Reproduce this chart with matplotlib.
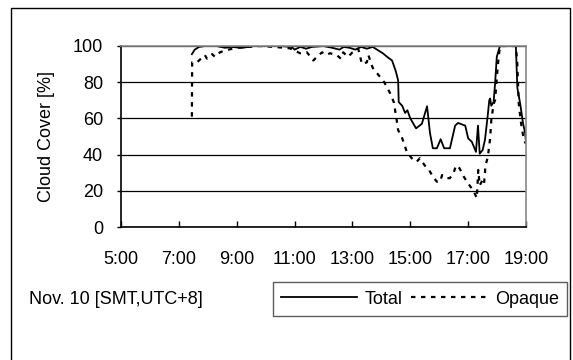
import matplotlib.pyplot as plt
from matplotlib.patches import Rectangle

plt.rcParams["font.family"] = ["Liberation Sans", "DejaVu Sans"]
plt.rcParams["font.size"] = 13

# --- DATA (hours of day, local time) ---
total_time = [7.45, 7.55, 7.7, 7.9, 8.3, 8.6, 8.8, 9.2, 9.6, 10.0, 10.5, 10.9,
              11.0, 11.2, 11.4, 11.6, 12.0, 12.3, 12.55, 12.7, 12.9, 13.1, 13.3,
              13.5, 13.7, 13.85, 14.05, 14.2, 14.37, 14.5, 14.58, 14.6, 14.72,
              14.82, 14.9, 15.0, 15.2, 15.4, 15.58, 15.68, 15.78, 15.92, 16.05,
              16.17, 16.37, 16.55, 16.65, 16.9, 17.0, 17.13, 17.27, 17.34, 17.4,
              17.5, 17.58, 17.68, 17.73, 17.76, 17.8, 17.88, 17.93, 17.99, 18.1,
              18.65, 18.7, 18.8, 18.9, 18.97, 19.0]
total_cover = [95.5, 98, 99.5, 100, 100, 99, 99.5, 99, 100, 100, 100, 99.5,
               98, 99.5, 98.5, 99.5, 100, 99, 98, 99.5, 99, 98, 99.5,
               98.5, 99.5, 98, 96, 94, 92, 86, 81, 69, 67,
               63, 64.5, 60, 54.5, 57, 66.7, 52, 43.5, 43.5, 48.5,
               43.5, 43.5, 56, 57.5, 56, 49, 47, 41.5, 56, 40.5,
               42.5, 48, 62, 70, 71, 67, 69, 79, 94, 100,
               100, 77, 68, 57, 52, 47]

opaque_time = [7.45, 7.46, 7.63, 7.73, 7.9, 7.97, 8.15, 8.25, 8.42, 8.6, 8.77,
               9.0, 9.4, 9.8, 10.3, 10.84, 11.0, 11.19, 11.43, 11.55, 11.65,
               11.77, 11.95, 12.1, 12.22, 12.46, 12.6, 12.68, 12.85, 13.0, 13.2,
               13.33, 13.5, 13.55, 13.7, 14.1, 14.3, 14.43, 14.53, 14.58, 14.7,
               14.88, 15.05, 15.22, 15.33, 15.5, 15.65, 15.78, 15.92, 16.03,
               16.1, 16.25, 16.37, 16.5, 16.58, 16.7, 16.85, 17.0, 17.17, 17.3,
               17.35, 17.4, 17.5, 17.55, 17.6, 17.68, 17.76, 17.8, 17.88, 17.93,
               18.03, 18.1, 18.65, 18.7, 18.75, 18.8, 18.85, 18.93, 19.0]
opaque_cover = [61, 91, 91, 92.5, 95, 93, 95.5, 94, 96.5, 97.6, 98.2,
                99, 99.5, 100, 99.5, 98.7, 97.5, 96, 96.5, 94, 92,
                94, 96.5, 95, 96, 95, 93, 96.5, 94, 96.5, 98.5,
                90, 91, 95, 88, 80, 74, 69, 59, 53.5, 50,
                41.5, 38, 36, 38, 34, 31.5, 27.8, 25, 25,
                28.7, 27, 27, 30, 34, 32.5, 27.8, 24, 20.4, 16,
                31.5, 23, 26, 24, 34, 38.6, 49, 59, 68, 70,
                90, 100, 100, 90, 68, 61, 55, 48, 46]

hour_ticks = [5, 7, 9, 11, 13, 15, 17, 19]
hour_labels = ["5:00", "7:00", "9:00", "11:00", "13:00", "15:00", "17:00", "19:00"]
y_ticks = [0, 20, 40, 60, 80, 100]

# --- PLOT ---
fig = plt.figure(figsize=(5.73, 3.6), dpi=100)
ax = fig.add_axes([121 / 573, 1 - 227 / 360, 405 / 573, 181 / 360])

ax.plot(total_time, total_cover, color="black", lw=1.3, label="Total")
ax.plot(opaque_time, opaque_cover, color="black", lw=1.6,
        linestyle=(0, (2, 2.5)), label="Opaque")

ax.set_xlim(5, 19)
ax.set_ylim(0, 100)
ax.set_xticks(hour_ticks)
ax.set_xticklabels(hour_labels)
ax.set_yticks(y_ticks)
ax.tick_params(axis="x", direction="in", length=4, pad=17, width=1)
ax.tick_params(axis="y", direction="out", length=3, pad=10, width=1)
ax.grid(axis="y", color="black", lw=0.9)
ax.set_axisbelow(True)

for side in ["top", "right"]:
    ax.spines[side].set_color("#888888")
    ax.spines[side].set_linewidth(1.2)
for side in ["left", "bottom"]:
    ax.spines[side].set_color("black")
    ax.spines[side].set_linewidth(1.2)

ax.set_ylabel("Cloud Cover [%]")
ax.yaxis.set_label_coords(-0.163, 0.5)

fig.text(29 / 573, 1 - 300 / 360, "Nov. 10 [SMT,UTC+8]", va="center", ha="left")

# legend box spans from x=273 to x=567 px
leg = fig.legend(loc="center left",
                 bbox_to_anchor=(273 / 573, 1 - 318 / 360, 294 / 573, 38 / 360),
                 mode="expand", ncol=2, frameon=True, fancybox=False,
                 handlelength=4.2, handletextpad=0.45, columnspacing=0.5,
                 borderpad=0.45, borderaxespad=0)
leg.get_frame().set_edgecolor("#333333")
leg.get_frame().set_linewidth(1.0)

# outer chart border
fig.patches.append(Rectangle((11 / 573, -0.1), 559 / 573, 1.1 - 8 / 360,
                             transform=fig.transFigure, fill=False,
                             edgecolor="black", lw=1.0))

fig.savefig("out.png", dpi=100)
